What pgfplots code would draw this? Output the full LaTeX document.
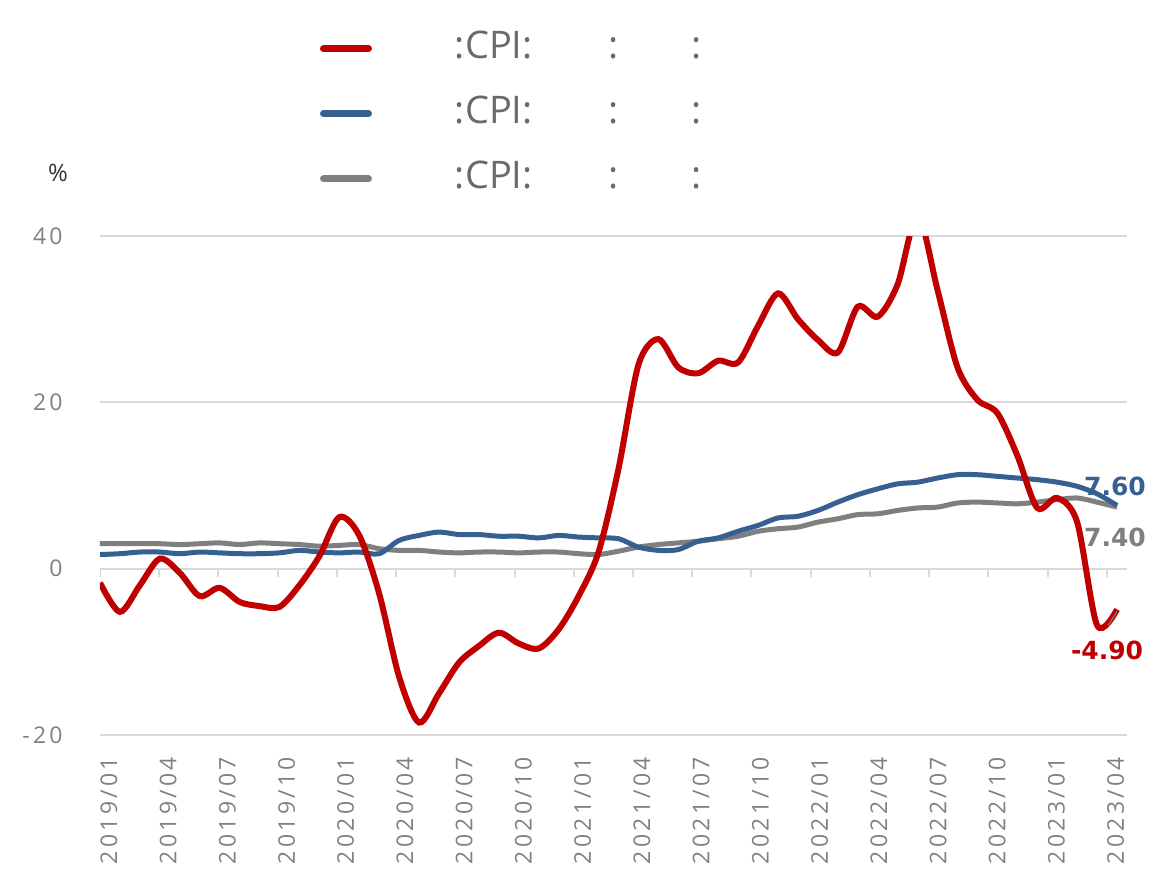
\documentclass[border=0pt]{standalone}
\usepackage{fontspec}
\setmainfont{Open Sans}
\newfontfamily\tickfont[LetterSpace=14]{Open Sans}
\newfontfamily\lblfont{DejaVu Sans}
\usepackage{pgfplots}
\usepackage{pgfplotstable}
\pgfplotsset{compat=1.18}
\definecolor{cred}{HTML}{C00000}
\definecolor{cblue}{HTML}{376092}
\definecolor{cgray}{HTML}{7F7F7F}
\definecolor{gridc}{HTML}{D9D9D9}
\definecolor{tickc}{HTML}{808080}
\definecolor{legc}{HTML}{6A6A6A}
\pgfplotsset{legend image code/.code={\draw[#1, line width=3.5pt, line cap=round] (0pt,0pt) -- (22.5pt,0pt);}}

\pgfplotstableread{
i red blue gray
0 -1.7 1.7 3.0
1 -5.2 1.8 3.0
2 -2.0 2.0 3.0
3 1.2 2.0 3.0
4 -0.5 1.8 2.9
5 -3.3 2.0 3.0
6 -2.3 1.9 3.1
7 -4.0 1.8 2.9
8 -4.5 1.8 3.1
9 -4.6 1.9 3.0
10 -2.0 2.2 2.9
11 1.5 2.0 2.7
12 6.2 1.9 2.8
13 4.0 2.0 2.9
14 -3.0 1.8 2.4
15 -13.0 3.4 2.2
16 -18.5 4.0 2.2
17 -15.0 4.4 2.0
18 -11.3 4.1 1.9
19 -9.3 4.1 2.0
20 -7.7 3.9 2.0
21 -9.0 3.9 1.9
22 -9.6 3.7 2.0
23 -7.3 4.0 2.0
24 -3.3 3.8 1.8
25 2.0 3.7 1.7
26 12.0 3.6 2.1
27 24.5 2.6 2.6
28 27.6 2.2 2.9
29 24.2 2.3 3.1
30 23.5 3.3 3.3
31 25.0 3.7 3.6
32 24.8 4.5 3.9
33 29.2 5.2 4.5
34 33.1 6.1 4.8
35 30.0 6.3 5.0
36 27.5 7.0 5.6
37 26.0 8.0 6.0
38 31.5 8.9 6.5
39 30.3 9.6 6.6
40 34.2 10.2 7.0
41 42.5 10.4 7.3
42 33.5 10.9 7.4
43 24.2 11.3 7.9
44 20.3 11.3 8.0
45 18.7 11.1 7.9
46 13.6 10.9 7.8
47 7.3 10.7 8.0
48 8.5 10.4 8.3
49 5.6 9.9 8.5
50 -6.8 9.0 8.0
51 -4.9 7.6 7.4
}\datatable

\begin{document}
\begin{tikzpicture}
\begin{axis}[
  at={(0pt,0pt)}, anchor=south west,
  scale only axis, width=513.5pt, height=249.5pt,
  xmin=0, xmax=51.5, ymin=-20, ymax=40,
  axis line style={draw=none},
  major tick length=0pt,
  ytick={-20,0,20,40}, yticklabels={-20,0,20,40},
  ymajorgrids, grid style={gridc, line width=1pt},
  xtick={0,2.97,5.94,8.91,11.88,14.85,17.82,20.79,23.76,26.73,29.7,32.67,35.64,38.61,41.58,44.55,47.52,50.49},
  xticklabels={2019/01,2019/04,2019/07,2019/10,2020/01,2020/04,2020/07,2020/10,2021/01,2021/04,2021/07,2021/10,2022/01,2022/04,2022/07,2022/10,2023/01,2023/04},
  tick label style={font=\tickfont\fontsize{11.5}{12}\selectfont, text=tickc},
  yticklabel style={anchor=east, inner sep=0pt, xshift=-18.5pt},
  xticklabel style={rotate=90, anchor=north east, inner sep=0pt},
  xticklabel shift=11pt,
  clip mode=individual,
  reverse legend,
  legend cell align=left,
  legend style={at={(axis description cs:0.2142,1.411)}, anchor=north west,
    draw=none, fill=none, inner sep=0pt, outer sep=0pt, row sep=14.5pt, column sep=0pt,
    font=\fontsize{19}{22}\selectfont, text=legc,
    nodes={inner sep=0pt, text height=14pt, text depth=4pt}},
]
\addplot[gridc, line width=1pt, ycomb, forget plot] coordinates {(0,-1) (2.97,-1) (5.94,-1) (8.91,-1) (11.88,-1) (14.85,-1) (17.82,-1) (20.79,-1) (23.76,-1) (26.73,-1) (29.7,-1) (32.67,-1) (35.64,-1) (38.61,-1) (41.58,-1) (44.55,-1) (47.52,-1) (50.49,-1)};
\addplot[cgray, line width=2.5pt, smooth] table[x=i, y=gray] {\datatable};
\addlegendentry{\hspace*{41.5pt}\makebox[0pt][l]{:CPI:}\hspace{77pt}\makebox[0pt][l]{:}\hspace{41.5pt}:}
\addplot[cblue, line width=2.5pt, smooth] table[x=i, y=blue] {\datatable};
\addlegendentry{\hspace*{41.5pt}\makebox[0pt][l]{:CPI:}\hspace{77pt}\makebox[0pt][l]{:}\hspace{41.5pt}:}
\addplot[cred, line width=3pt, smooth] table[x=i, y=red] {\datatable};
\addlegendentry{\hspace*{41.5pt}\makebox[0pt][l]{:CPI:}\hspace{77pt}\makebox[0pt][l]{:}\hspace{41.5pt}:}
\draw[cgray, line width=0.6pt] (axis cs:50.55,-6.85) -- (axis cs:51,-5.15);
\node[font=\lblfont\bfseries\fontsize{12.5}{14}\selectfont, text=cblue] at (axis cs:50.9,9.84) {7.60};
\node[font=\lblfont\bfseries\fontsize{12.5}{14}\selectfont, text=cgray] at (axis cs:50.9,3.72) {7.40};
\node[font=\lblfont\bfseries\fontsize{12.5}{14}\selectfont, text=cred] at (axis cs:50.5,-9.84) {-4.90};
\node[font=\fontsize{12}{14}\selectfont, text=black!80] at (axis description cs:-0.041,1.126) {\%};
\end{axis}
\pgfresetboundingbox
\path[use as bounding box] (-50pt,-70pt) rectangle (526.5pt,367.5pt);
\end{tikzpicture}
\end{document}
